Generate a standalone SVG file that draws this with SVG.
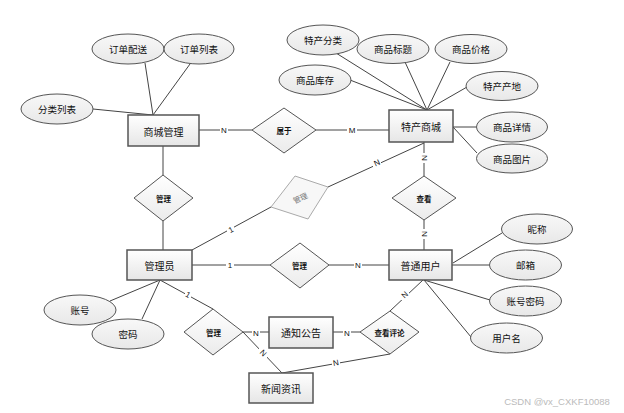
<svg xmlns="http://www.w3.org/2000/svg" width="624" height="413" viewBox="0 0 624 413">
<defs>
<linearGradient id="gRect" x1="0" y1="0" x2="0" y2="1"><stop offset="0" stop-color="#ffffff"/><stop offset="1" stop-color="#e6e6e6"/></linearGradient>
<linearGradient id="gEll" x1="0" y1="0" x2="0" y2="1"><stop offset="0" stop-color="#f8f8f8"/><stop offset="1" stop-color="#e8e8e8"/></linearGradient>
<linearGradient id="gDia" x1="0" y1="0" x2="0" y2="1"><stop offset="0" stop-color="#ffffff"/><stop offset="1" stop-color="#ebebeb"/></linearGradient>
</defs>
<style>
text{font-family:"Noto Sans CJK SC","Liberation Sans",sans-serif;fill:#111;text-anchor:middle;dominant-baseline:central}
.ent rect{fill:url(#gRect);stroke:#555;stroke-width:1.5}
.att ellipse{fill:url(#gEll);stroke:#555;stroke-width:1}
.rel polygon{fill:url(#gDia);stroke:#555;stroke-width:1}
.ent text{font-size:10px}
.att text{font-size:9.5px}
.rel text{font-size:7.5px;font-weight:bold}
#conn line,#conn polyline{stroke:#444;stroke-width:1;fill:none}
.lb{font-size:8px;font-family:"Liberation Sans",sans-serif}
.lbb{fill:#fff}
</style>
<rect width="624" height="413" fill="#fff"/>
<g id="conn">
<line x1="145" y1="63" x2="153" y2="115"/>
<line x1="190" y1="64" x2="153" y2="115"/>
<line x1="93" y1="109" x2="153" y2="115"/>
<line x1="199" y1="130" x2="252" y2="130"/>
<line x1="316" y1="130" x2="389" y2="130"/>
<line x1="163" y1="146" x2="163" y2="175"/>
<line x1="163" y1="221" x2="163" y2="250"/>
<line x1="336" y1="53" x2="427" y2="110"/>
<line x1="405" y1="62" x2="427" y2="110"/>
<line x1="450" y1="62" x2="427" y2="110"/>
<line x1="350" y1="80" x2="427" y2="110"/>
<line x1="467" y1="87" x2="427" y2="110"/>
<line x1="453" y1="127" x2="476" y2="127"/>
<line x1="453" y1="127" x2="477" y2="153"/>
<line x1="424" y1="143" x2="328" y2="187"/>
<line x1="271" y1="207" x2="192" y2="250"/>
<line x1="424" y1="142" x2="424" y2="176"/>
<line x1="424" y1="220" x2="424" y2="250"/>
<line x1="192" y1="265" x2="270" y2="265"/>
<line x1="329" y1="265" x2="389" y2="265"/>
<line x1="453" y1="263" x2="502" y2="233"/>
<line x1="452" y1="265" x2="489" y2="265"/>
<line x1="424" y1="280" x2="490" y2="300"/>
<line x1="424" y1="280" x2="471" y2="337"/>
<line x1="423" y1="280" x2="390" y2="311"/>
<line x1="110" y1="301" x2="160" y2="280"/>
<line x1="142" y1="319" x2="160" y2="280"/>
<line x1="160" y1="280" x2="213" y2="309"/>
<line x1="243" y1="332" x2="269" y2="332"/>
<line x1="243" y1="332" x2="282" y2="373"/>
<line x1="333" y1="332" x2="360" y2="332"/>
<line x1="390" y1="354" x2="282" y2="373"/>
<g>
<rect class="lbb" x="220" y="125" width="8" height="10"/><text class="lb" x="224" y="130">N</text>
<rect class="lbb" x="347" y="125" width="10" height="10"/><text class="lb" x="352" y="130">M</text>
<rect class="lbb" x="373" y="158" width="8" height="10"/><text class="lb" x="377" y="163" transform="rotate(-25 377 163)">N</text>
<rect class="lbb" x="227" y="225" width="7" height="10"/><text class="lb" x="231" y="230" transform="rotate(-28 231 230)">1</text>
<rect class="lbb" x="419" y="153" width="10" height="10"/><text class="lb" x="424" y="158" transform="rotate(90 424 158)">N</text>
<rect class="lbb" x="419" y="229" width="10" height="10"/><text class="lb" x="424" y="234" transform="rotate(90 424 234)">N</text>
<rect class="lbb" x="226" y="260" width="8" height="10"/><text class="lb" x="230" y="265">1</text>
<rect class="lbb" x="354" y="260" width="8" height="10"/><text class="lb" x="358" y="265">N</text>
<rect class="lbb" x="401" y="290" width="8" height="10"/><text class="lb" x="405" y="295" transform="rotate(-43 405 295)">N</text>
<rect class="lbb" x="185" y="290" width="6" height="10"/><text class="lb" x="188" y="295" transform="rotate(29 188 295)">1</text>
<rect class="lbb" x="252" y="328" width="8" height="9"/><text class="lb" x="256" y="333">N</text>
<rect class="lbb" x="259" y="348" width="8" height="10"/><text class="lb" x="263" y="353" transform="rotate(46 263 353)">N</text>
<rect class="lbb" x="343" y="328" width="8" height="9"/><text class="lb" x="347" y="333">N</text>
<rect class="lbb" x="332" y="358" width="8" height="10"/><text class="lb" x="336" y="363" transform="rotate(-10 336 363)">N</text>
</g>
</g>
<g id="e_shangcheng" class="ent"><rect x="128" y="115" width="71" height="31"/><text x="163.5" y="131">商城管理</text></g>
<g id="e_techan" class="ent"><rect x="389" y="110" width="64" height="32"/><text x="421" y="126">特产商城</text></g>
<g id="e_admin" class="ent"><rect x="127" y="250" width="65" height="30"/><text x="159.5" y="265">管理员</text></g>
<g id="e_user" class="ent"><rect x="389" y="250" width="63" height="30"/><text x="420.5" y="265">普通用户</text></g>
<g id="e_notice" class="ent"><rect x="269" y="317" width="64" height="31"/><text x="301" y="332.5">通知公告</text></g>
<g id="e_news" class="ent"><rect x="249" y="373" width="64" height="30"/><text x="281" y="388">新闻资讯</text></g>
<g id="r_shuyu" class="rel"><polygon points="252,130 284,108 316,130 284,153"/><text x="284" y="130.5">属于</text></g>
<g id="r_guanli1" class="rel"><polygon points="134,198 163,175 193,198 163,221"/><text x="163.5" y="198">管理</text></g>
<g id="r_guanli2" class="rel"><polygon points="270,265 300,243 329,265 300,288"/><text x="299.5" y="265.5">管理</text></g>
<g id="r_guanli3" class="rel"><polygon points="271,207 295,176 328,187 308,219" style="stroke:#aaa;fill:#f7f7f7"/><text x="300" y="197.5" transform="rotate(-25 300 197.5)" style="fill:#777;font-weight:normal">管理</text></g>
<g id="r_chakan" class="rel"><polygon points="392,198 424,176 456,198 424,220"/><text x="424" y="198">查看</text></g>
<g id="r_guanli4" class="rel"><polygon points="184,332 213,309 243,332 213,355"/><text x="213.5" y="332">管理</text></g>
<g id="r_pinglun" class="rel"><polygon points="360,332 390,311 419,332 390,354"/><text x="389.5" y="332.5">查看评论</text></g>
<g id="a_dingdanpeisong" class="att"><ellipse cx="128" cy="49" rx="36" ry="15"/><text x="128" y="49">订单配送</text></g>
<g id="a_dingdanliebiao" class="att"><ellipse cx="199" cy="49" rx="35" ry="15"/><text x="199" y="49">订单列表</text></g>
<g id="a_fenleiliebiao" class="att"><ellipse cx="57" cy="109" rx="36" ry="15"/><text x="57" y="109">分类列表</text></g>
<g id="a_techanfenlei" class="att"><ellipse cx="323" cy="40" rx="36" ry="15"/><text x="323" y="40">特产分类</text></g>
<g id="a_biaoti" class="att"><ellipse cx="393" cy="49" rx="36" ry="14.5"/><text x="393" y="49">商品标题</text></g>
<g id="a_jiage" class="att"><ellipse cx="471" cy="49" rx="36" ry="14.5"/><text x="471" y="49">商品价格</text></g>
<g id="a_kucun" class="att"><ellipse cx="315" cy="80" rx="36" ry="15"/><text x="315" y="80">商品库存</text></g>
<g id="a_chandi" class="att"><ellipse cx="502" cy="86" rx="36" ry="14.5"/><text x="502" y="86">特产产地</text></g>
<g id="a_xiangqing" class="att"><ellipse cx="512" cy="127" rx="35.5" ry="15"/><text x="512" y="127">商品详情</text></g>
<g id="a_tupian" class="att"><ellipse cx="512" cy="158.5" rx="35.5" ry="14.5"/><text x="512" y="158.5">商品图片</text></g>
<g id="a_nicheng" class="att"><ellipse cx="537" cy="229" rx="35.5" ry="15"/><text x="537" y="229">昵称</text></g>
<g id="a_youxiang" class="att"><ellipse cx="525.5" cy="265" rx="36" ry="15"/><text x="525.5" y="265">邮箱</text></g>
<g id="a_zhanghaomima" class="att"><ellipse cx="525.5" cy="301" rx="36" ry="15"/><text x="525.5" y="301">账号密码</text></g>
<g id="a_yonghuming" class="att"><ellipse cx="506.5" cy="338" rx="36" ry="15"/><text x="506.5" y="338">用户名</text></g>
<g id="a_zhanghao" class="att"><ellipse cx="80" cy="310" rx="36" ry="15"/><text x="80" y="310">账号</text></g>
<g id="a_mima" class="att"><ellipse cx="128" cy="334" rx="36" ry="15"/><text x="128" y="334">密码</text></g>
<text x="557" y="401" style="font-size:9.5px;fill:#bbb;font-family:'Liberation Sans',sans-serif">CSDN @vx_CXKF10088</text>
</svg>
